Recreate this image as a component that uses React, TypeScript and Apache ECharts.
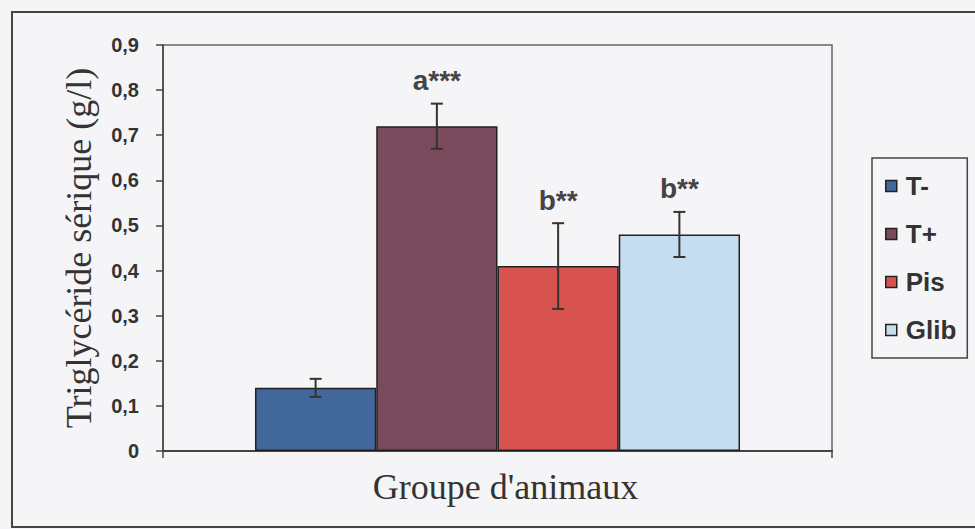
import React, { useEffect, useRef } from 'react';
import * as echarts from 'echarts';

const groups = ['T-', 'T+', 'Pis', 'Glib'];
const means = [0.14, 0.72, 0.41, 0.48];
const errors = [0.02, 0.05, 0.095, 0.05];
const signif = ['', 'a***', 'b**', 'b**'];
const colors = ['#42679B', '#7A4B5C', '#D8534F', '#C6DDF0'];
const yAxisTitle = 'Triglycéride sérique (g/l)';
const xAxisTitle = "Groupe d'animaux";
const categories = [xAxisTitle];

const GAP = 0.275;

export default function App() {
  const ref = useRef<HTMLDivElement>(null);
  useEffect(() => {
    if (!ref.current) return;
    const chart = echarts.init(ref.current, null, { renderer: 'svg' });
    const barSeries = groups.map((g, i) => ({
      name: g,
      type: 'bar',
      data: [means[i]],
      barGap: '0%',
      barCategoryGap: GAP * 100 + '%',
      itemStyle: { color: colors[i], borderColor: '#222', borderWidth: 1.5 },
      z: 2,
    }));
    const errData = groups.map((g, i) => [0, means[i], errors[i], i]);
    const option: any = {
      animation: false,
      backgroundColor: '#f5f5f7',
      grid: {
        left: 163,
        top: 45,
        right: 143,
        bottom: 78,
        show: true,
        borderColor: '#666',
        borderWidth: 1.5,
        backgroundColor: 'transparent',
      },
      legend: {
        orient: 'vertical',
        left: 872,
        top: 158,
        data: groups,
        icon: 'rect',
        itemWidth: 11,
        itemHeight: 11,
        itemGap: 22,
        padding: [15, 11, 15, 13],
        borderColor: '#444',
        borderWidth: 1.5,
        itemStyle: { borderColor: '#222', borderWidth: 1.5 },
        textStyle: {
          fontFamily: 'Liberation Sans',
          fontWeight: 'bold',
          fontSize: 26,
          color: '#333',
          padding: [0, 0, 0, 4],
        },
      },
      xAxis: {
        type: 'category',
        data: categories,
        name: xAxisTitle,
        nameLocation: 'middle',
        nameGap: 18,
        nameTextStyle: {
          fontFamily: 'Liberation Serif',
          fontSize: 36,
          color: '#333',
          padding: [0, 0, 0, 16],
        },
        axisLine: { lineStyle: { color: '#444', width: 2 } },
        axisTick: { show: true, length: 7, lineStyle: { color: '#444', width: 1.5 } },
        axisLabel: { show: false },
      },
      yAxis: {
        type: 'value',
        min: 0,
        max: 0.9,
        interval: 0.1,
        name: yAxisTitle,
        nameLocation: 'middle',
        nameGap: 66,
        nameTextStyle: {
          fontFamily: 'Liberation Serif',
          fontSize: 36,
          color: '#333',
        },
        splitLine: { show: false },
        axisLine: { show: true, lineStyle: { color: '#444', width: 1.5 } },
        axisTick: { show: true, length: 7, lineStyle: { color: '#444', width: 1.5 } },
        axisLabel: {
          margin: 24,
          fontFamily: 'Liberation Sans',
          fontWeight: 'bold',
          fontSize: 20,
          color: '#333',
          formatter: (v: number) => (v === 0 ? '0' : v.toFixed(1).replace('.', ',')),
        },
      },
      graphic: [
        {
          type: 'rect',
          shape: { x: 12, y: 12, width: 1000, height: 515 },
          style: { fill: 'none', stroke: '#444', lineWidth: 2 },
          silent: true,
        },
      ],
      series: [
        ...barSeries,
        {
          type: 'custom',
          name: 'err',
          data: errData,
          encode: { x: 0, y: 1 },
          z: 5,
          renderItem: (params: any, api: any) => {
            const mean = api.value(1);
            const err = api.value(2);
            const idx = api.value(3);
            const base = api.coord([0, 0]);
            const band = api.size([1, 0])[0];
            const barW = (band * (1 - GAP)) / groups.length;
            const x = base[0] - (groups.length / 2) * barW + (idx + 0.5) * barW;
            const top = api.coord([0, mean + err])[1];
            const bot = api.coord([0, mean - err])[1];
            const cap = 6;
            const ls = { stroke: '#333', lineWidth: 2 };
            return {
              type: 'group',
              children: [
                { type: 'line', shape: { x1: x, y1: top, x2: x, y2: bot }, style: ls },
                { type: 'line', shape: { x1: x - cap, y1: top, x2: x + cap, y2: top }, style: ls },
                { type: 'line', shape: { x1: x - cap, y1: bot, x2: x + cap, y2: bot }, style: ls },
                {
                  type: 'text',
                  x: x,
                  y: top - 9,
                  style: {
                    text: signif[idx],
                    textAlign: 'center',
                    textVerticalAlign: 'bottom',
                    fontFamily: 'Liberation Sans',
                    fontWeight: 'bold',
                    fontSize: 28,
                    fill: '#444',
                  },
                },
              ],
            };
          },
        },
      ],
    };
    chart.setOption(option);
    return () => chart.dispose();
  }, []);
  return (
    <div
      ref={ref}
      style={{ position: 'fixed', left: 0, top: 0, width: 975, height: 529 }}
    />
  );
}
